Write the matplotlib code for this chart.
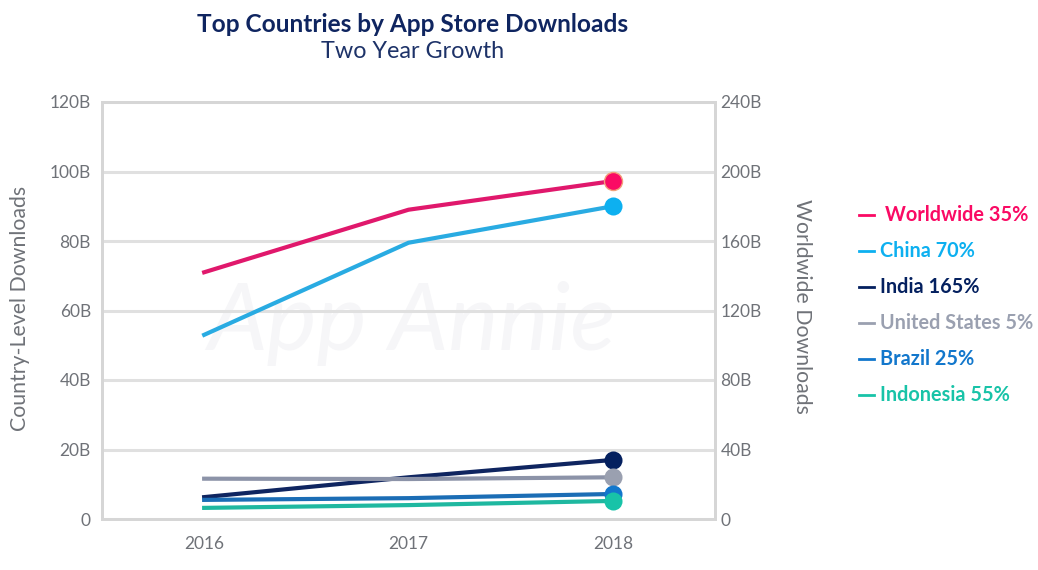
import matplotlib
matplotlib.use("Agg")
import matplotlib.pyplot as plt
from matplotlib.lines import Line2D

plt.rcParams['font.family'] = ['Lato', 'DejaVu Sans']

years = ['2016', '2017', '2018']
worldwide = [142, 178, 194.5]
china = [53, 79.5, 90]
india = [6.3, 12, 17]
usa = [11.6, 11.5, 12]
brazil = [5.5, 6, 7.2]
indonesia = [3.2, 4, 5.2]

left_ticks = [0, 20, 40, 60, 80, 100, 120]
left_labels = ['0', '20B', '40B', '60B', '80B', '100B', '120B']
right_ticks = [0, 40, 80, 120, 160, 200, 240]
right_labels = ['0', '40B', '80B', '120B', '160B', '200B', '240B']

legend_names = ['Worldwide 35%', 'China 70%', 'India 165%',
                'United States 5%', 'Brazil 25%', 'Indonesia 55%']
line_colors = ['#e0186c', '#29abe2', '#0f2560', '#8c93a8', '#1b6db5', '#1fb8a0']
dot_colors = ['#fa0a64', '#0db0f0', '#04205f', '#9aa0b0', '#1277cc', '#18c3a8']
legend_y = [215, 251, 287, 323, 359, 395]

W, H = 1038, 570
GREY = '#6f7278'
fig = plt.figure(figsize=(W / 100, H / 100), dpi=100)
ax = fig.add_axes([102 / W, 1 - 519 / H, 613 / W, 417 / H])
ax2 = ax.twinx()

x = [0, 1, 2]
ax.set_xlim(-0.5, 2.5)
ax.set_ylim(0, 120)
ax2.set_ylim(0, 240)

# watermark goes under the lines
ax.text(0.505, 0.47, 'App Annie', transform=ax.transAxes, ha='center', va='center',
        fontsize=68, style='italic', color='#f6f6f8', zorder=0)

ax.set_yticks(left_ticks)
ax.set_yticklabels(left_labels)
ax.set_xticks(x)
ax.set_xticklabels(years)
ax2.set_yticks(right_ticks)
ax2.set_yticklabels(right_labels)
ax.grid(axis='y', color='#e0e0e0', lw=2.2, zorder=1)
ax.set_axisbelow(True)
ax.tick_params(axis='both', length=0, labelsize=12.5, labelcolor=GREY)
ax.tick_params(axis='x', pad=12)
ax.tick_params(axis='y', pad=8)
ax2.tick_params(axis='y', length=0, labelsize=12.5, labelcolor=GREY, pad=4)

for a in (ax, ax2):
    for side in a.spines:
        a.spines[side].set_color('#d6d6d6')
        a.spines[side].set_linewidth(2)

ax.set_ylabel('Country-Level Downloads', fontsize=15.3, color=GREY, labelpad=14, y=0.505)
ax2.set_ylabel('Worldwide Downloads', fontsize=15.3, color=GREY, rotation=270, labelpad=36, y=0.51)

# worldwide uses the right axis, countries the left one
ax2.patch.set_visible(False)
ax2.plot(x, worldwide, color=line_colors[0], lw=3, zorder=3)
ax2.plot(x[-1], worldwide[-1], 'o', ms=13, color=dot_colors[0],
         mec='#f2a07a', mew=1, zorder=4)
series = [china, india, usa, brazil, indonesia]
for i, s in enumerate(series):
    ax2.plot(x, [v * 2 for v in s], color=line_colors[i + 1], lw=3, zorder=3 + i * 0.1)
    ax2.plot(x[-1], s[-1] * 2, 'o', ms=13, color=dot_colors[i + 1], mew=0, zorder=4 + i * 0.1)

fig.text(413 / W, 1 - 24 / H, 'Top Countries by App Store Downloads', ha='center', va='center',
         fontsize=17.6, fontweight='bold', color='#0f2560')
fig.text(413 / W, 1 - 52 / H, 'Two Year Growth', ha='center', va='center',
         fontsize=16.8, color='#1d3268')

for i, name in enumerate(legend_names):
    y = 1 - legend_y[i] / H
    fig.add_artist(Line2D([859 / W, 874 / W], [y, y], color=dot_colors[i], lw=2))
    tx = 885 if i == 0 else 880
    fig.text(tx / W, y, name, ha='left', va='center', fontsize=14.3,
             fontweight='bold', color=dot_colors[i])

fig.savefig('out.png', dpi=100)
